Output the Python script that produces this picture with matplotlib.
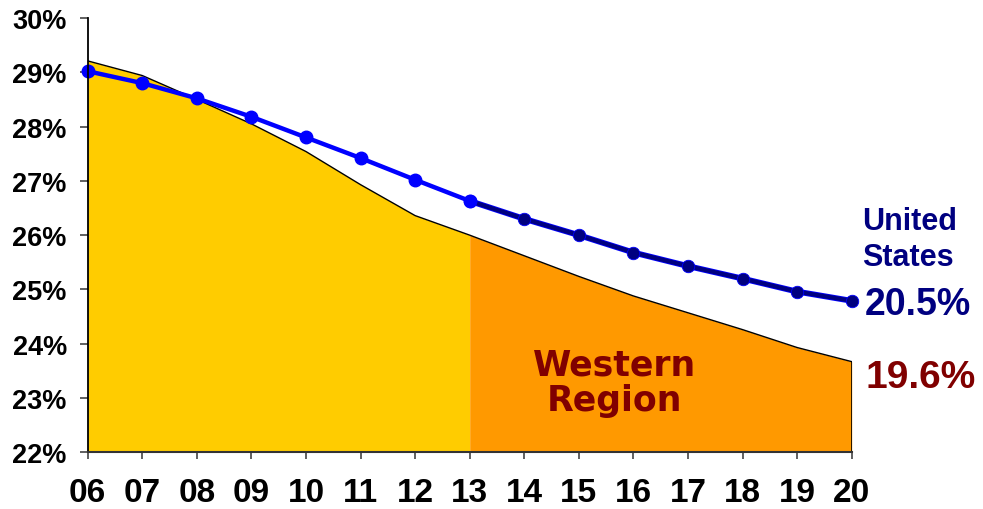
import matplotlib
matplotlib.use("Agg")
import matplotlib.pyplot as plt
from matplotlib.ticker import FuncFormatter

years = [6, 7, 8, 9, 10, 11, 12, 13, 14, 15, 16, 17, 18, 19, 20]
year_labels = ["06", "07", "08", "09", "10", "11", "12", "13", "14", "15", "16", "17", "18", "19", "20"]
western = [29.21, 28.94, 28.50, 28.05, 27.54, 26.93, 26.36, 26.00, 25.62, 25.24, 24.88, 24.57, 24.26, 23.93, 23.67]
united_states = [29.02, 28.80, 28.52, 28.18, 27.80, 27.42, 27.02, 26.63, 26.30, 26.00, 25.68, 25.43, 25.20, 24.96, 24.79]
y_ticks = [22, 23, 24, 25, 26, 27, 28, 29, 30]
split_year = 13

W, H = 983, 510
fig = plt.figure(figsize=(W / 100, H / 100), dpi=100)
ax = fig.add_axes([87.7 / W, 1 - 453.3 / H, (851.7 - 87.7) / W, (453.3 - 19.0) / H])

si = years.index(split_year)
# area fill
ax.fill_between(years[:si + 1], 22, western[:si + 1], color="#FFCC00", lw=0, zorder=1)
ax.fill_between(years[si:], 22, western[si:], color="#FF9900", lw=0, zorder=1)
ax.plot(years, western, color="black", lw=1.0, zorder=2)
ax.plot([years[-1], years[-1]], [22, western[-1]], color="black", lw=1.2, zorder=2)

# US line: projected part navy with blue halo
ax.plot(years[si:], united_states[si:], color="#0000FF", lw=4.2, zorder=3,
        solid_capstyle="round", clip_on=False)
ax.plot(years[si:], united_states[si:], color="#000080", lw=3.0, zorder=4,
        marker="o", ms=9, mfc="#000080", mec="#0000FF", mew=0.6, clip_on=False)
ax.plot(years[:si + 1], united_states[:si + 1], color="#0000FF", lw=3.2, zorder=5,
        marker="o", ms=9, mfc="#0000FF", mec="#0000FF", clip_on=False)

ax.set_xlim(years[0], years[-1])
ax.set_ylim(y_ticks[0], y_ticks[-1])
ax.set_xticks(years)
ax.set_xticklabels(year_labels)
ax.set_yticks(y_ticks)
ax.yaxis.set_major_formatter(FuncFormatter(lambda v, p: f"{int(v)}%"))

for s in ["top", "right"]:
    ax.spines[s].set_visible(False)
ax.spines["left"].set_color("black")
ax.spines["left"].set_linewidth(1.3)
ax.spines["bottom"].set_color("#333333")
ax.spines["bottom"].set_linewidth(1.5)
ax.spines["left"].set_zorder(6)
ax.spines["bottom"].set_zorder(6)

ax.tick_params(axis="x", direction="out", length=5, width=1.2, color="#444444", pad=13)
ax.tick_params(axis="y", direction="out", length=6, width=1.2, color="#444444", pad=9)
for lab in ax.get_xticklabels():
    lab.set_fontfamily("Liberation Sans")
    lab.set_fontweight("bold")
    lab.set_fontsize(24)
for lab in ax.get_yticklabels():
    lab.set_fontfamily("Liberation Sans")
    lab.set_fontweight("bold")
    lab.set_fontsize(19.5)

def fx(x):
    return x / W

def fy(y):
    return 1 - y / H

fig.text(fx(862), fy(240), "United\nStates", color="#000080", fontsize=22, fontweight="bold",
         family="Liberation Sans", ha="left", va="center", linespacing=1.3)
fig.text(fx(865), fy(305), "20.5%", color="#000080", fontsize=27, fontweight="bold",
         family="Liberation Sans", ha="left", va="center")
fig.text(fx(865), fy(378), "19.6%", color="#800000", fontsize=28, fontweight="bold",
         family="Liberation Sans", ha="left", va="center")
fig.text(fx(615), fy(383), "Western\nRegion", color="#800000", fontsize=25, fontweight="bold",
         family="DejaVu Sans", ha="center", va="center", linespacing=1.05)

fig.savefig("out.png", dpi=100)
